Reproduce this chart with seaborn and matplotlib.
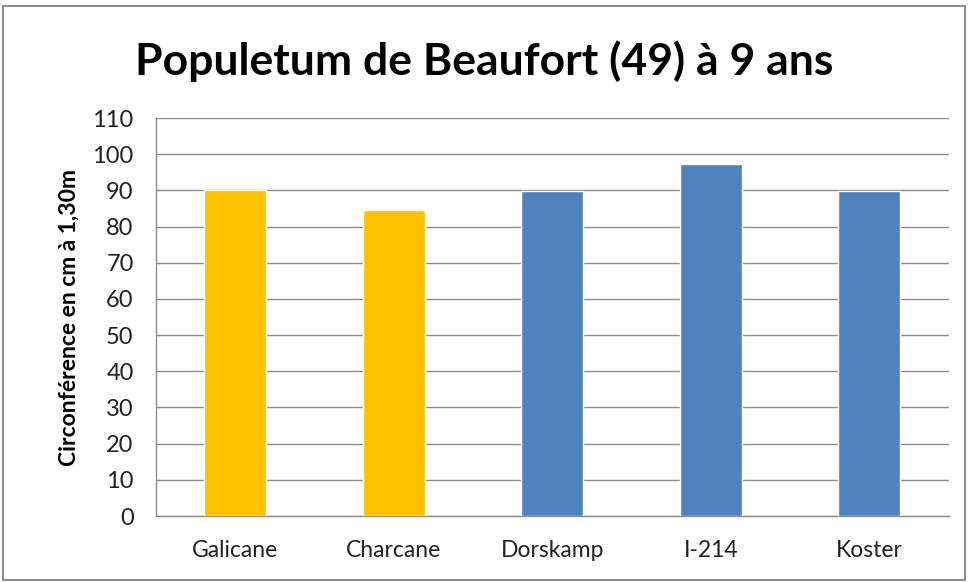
import matplotlib
matplotlib.use("Agg")
import matplotlib.pyplot as plt
import seaborn as sns
import pandas as pd
from matplotlib.patches import Rectangle

categories = ["Galicane", "Charcane", "Dorskamp", "I-214", "Koster"]
values = [90.2, 84.6, 89.9, 97.3, 89.9]
groups = ["new", "new", "ref", "ref", "ref"]
yticks = list(range(0, 111, 10))

sns.set_style("white")
plt.rcParams['font.family'] = ['Lato', 'DejaVu Sans']

df = pd.DataFrame({"cat": categories, "val": values, "grp": groups})

fig = plt.figure(figsize=(9.68, 5.82), dpi=100)
ax = fig.add_axes([0.161, 0.1134, 0.819, 0.6837])

sns.barplot(data=df, x="cat", y="val", hue="grp", dodge=False,
            palette={"new": "#FFC000", "ref": "#4F81BD"}, width=0.39,
            legend=False, ax=ax, zorder=3, saturation=1)

ax.set_ylim(0, 110)
ax.set_yticks(yticks)
ax.set_yticklabels([str(t) for t in yticks], fontsize=17, color="#222222")
ax.tick_params(axis="x", labelsize=16.5, colors="#222222", pad=17, length=0)
ax.tick_params(axis="y", length=0, pad=16)
ax.set_xlim(-0.5, 4.5)
ax.yaxis.grid(True, color="#8C8C8C", linewidth=1.0, zorder=0)
ax.set_axisbelow(True)
for s in ["top", "right"]:
    ax.spines[s].set_visible(False)
for s in ["left", "bottom"]:
    ax.spines[s].set_color("#8C8C8C")
    ax.spines[s].set_linewidth(1.0)
ax.set_xlabel("")
ax.set_ylabel("Circonférence en cm à 1,30m", fontsize=16.5, fontweight="bold",
              color="#000000", labelpad=9)

fig.text(0.5, 0.895, "Populetum de Beaufort (49) à 9 ans", ha="center", va="center",
         fontsize=32, fontweight="bold", color="#000000")

fig.patches.append(Rectangle((0.003, 0.004), 0.994, 0.986, transform=fig.transFigure,
                             fill=False, edgecolor="#8C8C8C", linewidth=1.5))

fig.savefig("out.png", dpi=100)
